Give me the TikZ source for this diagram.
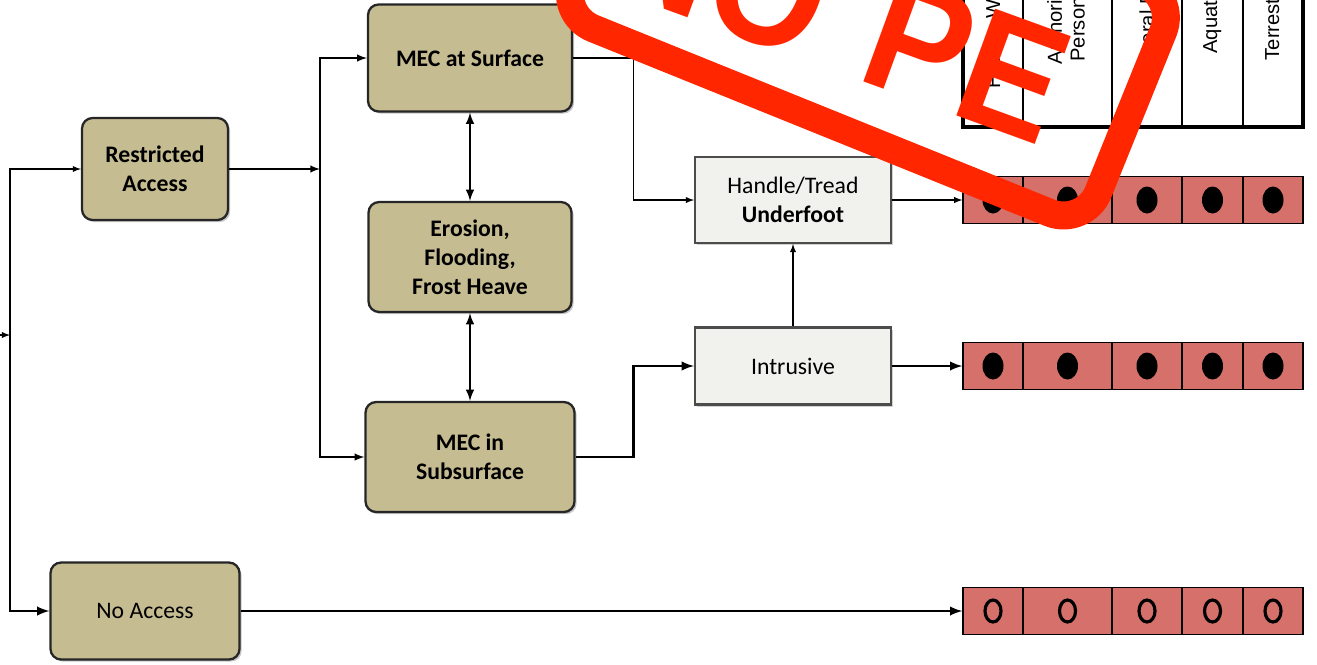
\documentclass[tikz,border=0pt]{standalone}
\usepackage{fontspec}
\setmainfont{Carlito}
\newfontfamily\stampfont{Liberation Sans}
\usetikzlibrary{shadows}
\definecolor{khaki}{RGB}{198,188,146}
\definecolor{paleg}{RGB}{241,241,238}
\definecolor{salmon}{RGB}{214,112,106}
\definecolor{stampred}{RGB}{255,38,0}
\begin{document}
\begin{tikzpicture}[x=0.02cm,y=-0.02cm,
  tanbox/.style={draw=black!85,line width=1.3pt,fill=khaki,rounded corners=6pt,align=center,
    font=\bfseries\fontsize{13.5}{16.5}\selectfont,
    drop shadow={shadow xshift=1.2pt,shadow yshift=-1.2pt,fill=black!45}},
  greybox/.style={draw=black!70,line width=1.2pt,fill=paleg,align=center,
    font=\fontsize{13.5}{16.5}\selectfont,
    drop shadow={shadow xshift=1pt,shadow yshift=-1.2pt,fill=black!35}},
  cell/.style={draw=black,line width=0.8pt,fill=salmon,minimum height=0.94cm,inner sep=0pt},
  hdr/.style={rotate=90,align=center,font=\stampfont\fontsize{11.5}{13}\selectfont},
  flow/.style={-latex,line width=0.6pt},
  boldflow/.style={-latex,line width=1.4pt}]
\useasboundingbox (0,0) rectangle (1317,664);
\clip (0,0) rectangle (1317,664);
\node[tanbox,minimum width=2.92cm,minimum height=2.04cm] (ra) at (155,169) {Restricted\\Access};
\node[tanbox,minimum width=4.08cm,minimum height=2.14cm] (surf) at (470,58) {MEC at Surface};
\node[tanbox,minimum width=4.06cm,minimum height=2.2cm] (eros) at (470,257) {Erosion,\\Flooding,\\Frost Heave};
\node[tanbox,minimum width=4.18cm,minimum height=2.2cm] (subs) at (470,457) {MEC in\\Subsurface};
\node[tanbox,font=\fontsize{13.5}{16.5}\selectfont,minimum width=3.78cm,minimum height=1.94cm] (na) at (145,611) {No Access};
\node[greybox,minimum width=3.92cm,minimum height=1.72cm] (ht) at (793,200) {Handle/Tread\\\textbf{Underfoot}};
\node[greybox,minimum width=3.92cm,minimum height=1.54cm] (intr) at (793,366) {Intrusive};
\foreach \r/\yy in {1/200,2/366,3/611}
  \foreach \xa/\xb [count=\c] in {963/1023,1023/1112,1112/1182,1182/1243,1243/1303}
    \node[cell,minimum width={(\xb-\xa)*0.02cm}] (c\r\c) at ({(\xa+\xb)/2},\yy) {};
\foreach \r in {1,2}
  \foreach \c in {1,...,5}
    \fill (c\r\c) ellipse[x radius=0.21cm,y radius=0.27cm];
\foreach \c in {1,...,5}
  \draw[line width=1.8pt] (c3\c) ellipse[x radius=0.16cm,y radius=0.22cm];
\draw[fill=white,line width=0.8pt] (963,-120) rectangle (1303,127);
\foreach \xx in {1112,1182,1243}
  \draw[line width=0.8pt] (\xx,-120) -- (\xx,127);
\draw[line width=1.6pt] (1023,-120) -- (1023,127);
\draw[line width=1.8pt] (963,-120) -- (963,127) -- (1303,127) -- (1303,-120);
\node[hdr] (h1) at (993,16) {Human Workers};
\node[hdr] (h2) at (1066,16) {Authorized\\Personnel};
\node[hdr] (h3) at (1147,16) {General Public};
\node[hdr] (h4) at (1212,20) {Aquatic};
\node[hdr] (h5) at (1272,16) {Terrestrial};
\coordinate (inlet) at (-10,335);
\coordinate (trunk) at (10,335);
\coordinate (split) at (320,169);
\draw[flow] (inlet) -- (trunk);
\draw[flow] (trunk) |- (ra);
\draw[boldflow] (trunk) |- (na);
\draw[flow,line width=0.9pt] (ra) -- (split);
\draw[flow,line width=0.9pt] (split) |- (surf);
\draw[flow,line width=0.9pt] (split) |- (subs);
\draw[latex-latex,line width=1.2pt] (surf) -- (eros);
\draw[latex-latex,line width=1.2pt] (eros) -- (subs);
\draw[flow] (surf.east) -- ++(60,0) |- (ht);
\draw[boldflow] (subs.east) -- ++(58,0) |- (intr);
\draw[flow] (intr) -- (ht);
\draw[flow] (ht) -- (c11);
\draw[boldflow] (intr) -- (c21);
\draw[boldflow] (na) -- (c31);
\begin{scope}[shift={(1092,245)},rotate=-22]
\draw[stampred,line width=0.56cm,rounded corners=0.75cm] (-581,-14) rectangle (-14,-262);
\node[stampred,transform shape,anchor=base east,inner sep=0pt,rotate=2,xscale=0.9,
  font=\stampfont\bfseries\fontsize{94}{94}\selectfont] (nope) at (-84,-72) {NO\kern0.35em PE};
\end{scope}
\end{tikzpicture}
\end{document}
